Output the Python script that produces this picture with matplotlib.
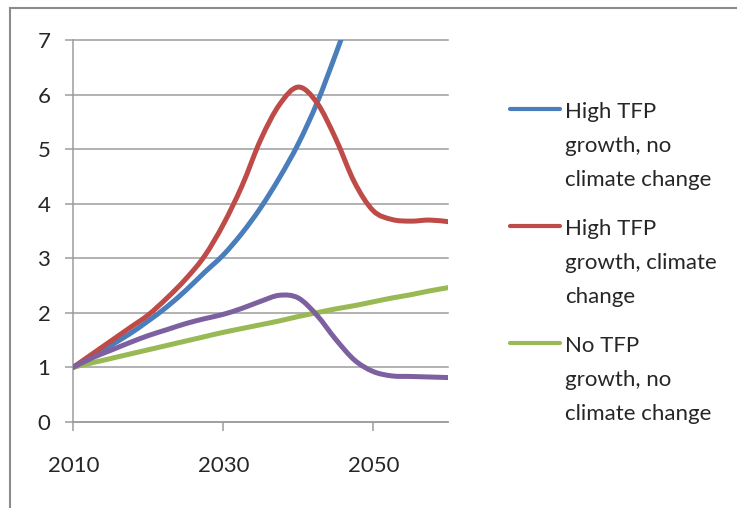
import numpy as np
import matplotlib
matplotlib.use("Agg")
import matplotlib.pyplot as plt
from matplotlib.path import Path
from matplotlib.patches import PathPatch
from matplotlib.lines import Line2D

# Index values (2010 = 1) by scenario, every 2.5 years
years = [2010, 2012.5, 2015, 2017.5, 2020, 2022.5, 2025, 2027.5, 2030, 2032.5, 2035,
         2037.5, 2040, 2042.5, 2045, 2047.5, 2050, 2052.5, 2055, 2057.5, 2060]
high_tfp_no_cc = [1.0, 1.19, 1.40, 1.61, 1.85, 2.11, 2.41, 2.74, 3.06, 3.46, 3.93,
                  4.48, 5.10, 5.85, 6.75, 7.70, 8.70, 9.80, 11.0, 12.3, 13.8]
high_tfp_cc = [1.0, 1.24, 1.48, 1.72, 1.96, 2.27, 2.62, 3.04, 3.62, 4.33, 5.18,
               5.82, 6.14, 5.85, 5.19, 4.39, 3.87, 3.71, 3.68, 3.70, 3.67]
no_tfp_no_cc = [1.0, 1.08, 1.16, 1.24, 1.32, 1.40, 1.48, 1.56, 1.64, 1.71, 1.78,
                1.85, 1.93, 2.00, 2.07, 2.13, 2.20, 2.27, 2.33, 2.40, 2.46]
no_tfp_cc = [1.0, 1.17, 1.31, 1.45, 1.58, 1.69, 1.80, 1.89, 1.97, 2.08, 2.21,
             2.32, 2.27, 1.95, 1.51, 1.13, 0.92, 0.84, 0.83, 0.82, 0.81]

labels = ["High TFP\ngrowth, no\nclimate change",
          "High TFP\ngrowth, climate\nchange",
          "No TFP\ngrowth, no\nclimate change"]
y_ticks = [0, 1, 2, 3, 4, 5, 6, 7]
x_ticks = [2010, 2030, 2050]

colors = ["#4A7EBB", "#BE4B48", "#98B954", "#7D60A0"]
series = [high_tfp_no_cc, high_tfp_cc, no_tfp_no_cc, no_tfp_cc]

GRID = "#9c9c9c"
TEXT = "#262626"
FONT = "Lato"

W, H = 737, 508
fig = plt.figure(figsize=(W / 100, H / 100), dpi=100)
ax = fig.add_axes([73.3 / W, 1 - 421.7 / H, 375 / W, 381.5 / H])


def smooth_path(xs, ys):
    """Smoothed line (Catmull-Rom style Bezier) through the data points."""
    pts = np.column_stack([xs, ys]).astype(float)
    n = len(pts)
    verts = [pts[0]]
    codes = [Path.MOVETO]
    for i in range(n - 1):
        p0 = pts[max(i - 1, 0)]
        p1 = pts[i]
        p2 = pts[i + 1]
        p3 = pts[min(i + 2, n - 1)]
        verts += [p1 + (p2 - p0) / 6.0, p2 - (p3 - p1) / 6.0, p2]
        codes += [Path.CURVE4] * 3
    return Path(verts, codes)


for vals, c in zip(series, colors):
    patch = PathPatch(smooth_path(years, vals), fill=False, edgecolor=c,
                      lw=3.6, capstyle="round", joinstyle="round", zorder=3)
    ax.add_patch(patch)

ax.set_xlim(2010, 2060)
ax.set_ylim(0, 7)
ax.set_yticks(y_ticks)
ax.set_xticks(x_ticks)
ax.set_yticklabels([str(v) for v in y_ticks], fontsize=16, family=FONT, color=TEXT)
ax.set_xticklabels([str(v) for v in x_ticks], fontsize=16, family=FONT, color=TEXT)

ax.yaxis.grid(True, color=GRID, lw=1.1)
for gl in ax.get_ygridlines():
    gl.set_clip_on(False)
ax.set_axisbelow(True)

for s in ["top", "right"]:
    ax.spines[s].set_visible(False)
for s in ["left", "bottom"]:
    ax.spines[s].set_color(GRID)
    ax.spines[s].set_linewidth(1.1)

ax.tick_params(axis="y", direction="out", length=5.5, width=1.1, color=GRID, pad=11)
ax.tick_params(axis="x", direction="out", length=6.5, width=1.1, color=GRID, pad=18)

# Chart-area frame
frame_kw = dict(color="#8c8c8c", lw=1.5, transform=fig.transFigure)
fig.add_artist(Line2D([10 / W, 10 / W], [0, 1 - 8.3 / H], **frame_kw))
fig.add_artist(Line2D([10 / W, 1], [1 - 8.3 / H, 1 - 8.3 / H], **frame_kw))

# Legend (three scenarios shown)
first_base = 118.3
entry_step = 117.0
line_step = 33.8
for i, (lab, c) in enumerate(zip(labels, colors[:3])):
    y0 = first_base + i * entry_step
    hy = y0 - 9.0
    fig.add_artist(Line2D([510 / W, 560 / W], [1 - hy / H, 1 - hy / H],
                          color=c, lw=3.0, solid_capstyle="round",
                          transform=fig.transFigure))
    for j, part in enumerate(lab.split("\n")):
        fig.text(565 / W, 1 - (y0 + j * line_step) / H, part, fontsize=16,
                 family=FONT, color=TEXT, ha="left", va="baseline")

fig.savefig("out.png", dpi=100, facecolor="white")
